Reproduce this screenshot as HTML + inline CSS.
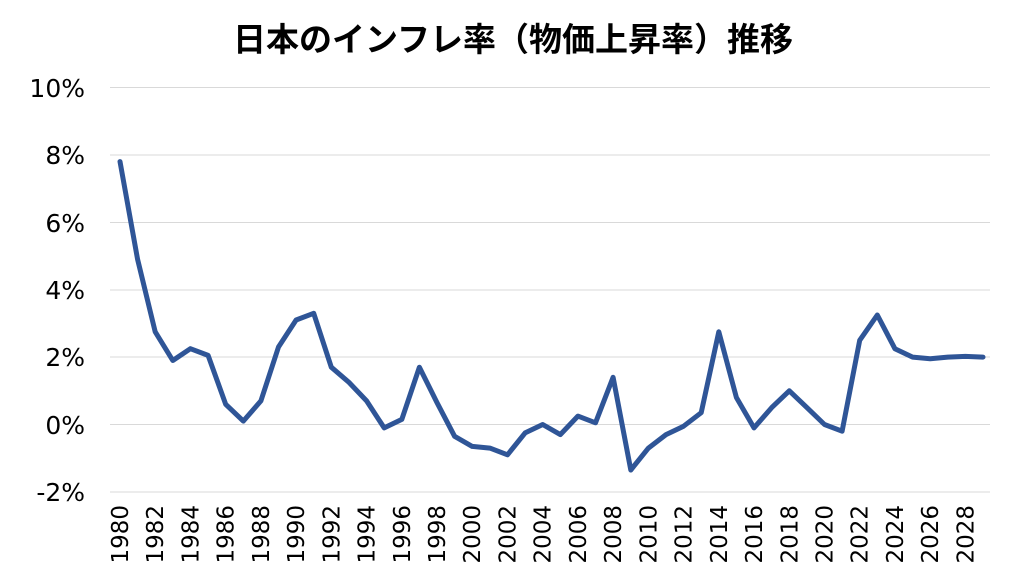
<!DOCTYPE html>
<html><head><meta charset="utf-8"><style>
html,body{margin:0;padding:0;background:#fff;}
</style></head><body>
<svg width="1024" height="576" xmlns="http://www.w3.org/2000/svg">
<text x="513" y="51" text-anchor="middle" font-family="Liberation Sans, Noto Sans CJK JP, sans-serif" font-weight="bold" font-size="33" fill="#000">日本のインフレ率（物価上昇率）推移</text>
<g stroke="#d9d9d9" stroke-width="1">
<line x1="110" x2="990" y1="87.5" y2="87.5"/>
<line x1="110" x2="990" y1="155" y2="155"/>
<line x1="110" x2="990" y1="222.5" y2="222.5"/>
<line x1="110" x2="990" y1="290" y2="290"/>
<line x1="110" x2="990" y1="357" y2="357"/>
<line x1="110" x2="990" y1="424.5" y2="424.5"/>
<line x1="110" x2="990" y1="492" y2="492"/>
</g>
<g font-family="DejaVu Sans, sans-serif" font-size="25" fill="#000" text-anchor="end">
<text x="85" y="97">10%</text>
<text x="85" y="164">8%</text>
<text x="85" y="232">6%</text>
<text x="85" y="299">4%</text>
<text x="85" y="366">2%</text>
<text x="85" y="434">0%</text>
<text x="85" y="501">-2%</text>
</g>
<g id="xl" font-family="DejaVu Sans, sans-serif" font-size="23" fill="#000" text-anchor="end"></g>
<polyline id="ln" fill="none" stroke="#2f5597" stroke-width="5" stroke-linejoin="round" stroke-linecap="round" points=""/>
</svg>
<script>
var d=[7.8,4.9,2.75,1.9,2.25,2.05,0.6,0.1,0.7,2.3,3.1,3.3,1.7,1.25,0.7,-0.1,0.15,1.7,0.65,-0.35,-0.65,-0.7,-0.9,-0.25,0,-0.3,0.25,0.05,1.4,-1.35,-0.7,-0.3,-0.05,0.35,2.75,0.8,-0.1,0.5,1.0,0.5,0,-0.2,2.5,3.25,2.25,2.0,1.95,2.0,2.02,2.0];
var pts=[],x0=120,dx=(983-120)/49;
for(var i=0;i<d.length;i++){pts.push((x0+i*dx).toFixed(1)+","+(424.5-d[i]*33.7).toFixed(1));}
document.getElementById('ln').setAttribute('points',pts.join(' '));
var g=document.getElementById('xl'),s='';
for(var i=0;i<50;i+=2){var x=x0+i*dx+8;s+='<text transform="translate('+x.toFixed(1)+',505) rotate(-90)">'+(1980+i)+'</text>';}
g.innerHTML=s;
</script>
</body></html>
